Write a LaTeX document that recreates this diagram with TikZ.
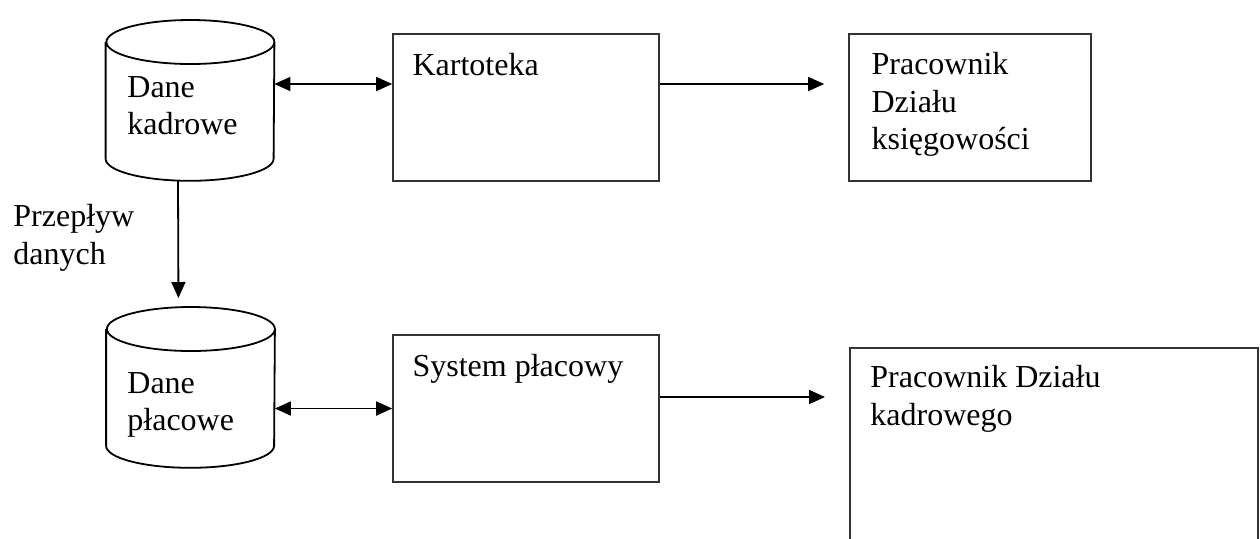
\documentclass[tikz,border=0pt]{standalone}
\usepackage{fontspec}
\setmainfont{Liberation Serif}
\usetikzlibrary{positioning,arrows.meta}

\begin{document}
\begin{tikzpicture}[
  x=0.5pt, y=-0.5pt,
  >={Triangle[length=8pt,width=7pt]},
  every node/.style={font=\fontsize{16pt}{18.75pt}\selectfont},
  db/.style={inner sep=0pt, minimum width=84pt, minimum height=80pt, anchor=north,
    append after command={\pgfextra{
      \draw[line width=0.9pt] ([yshift=-11pt]\tikzlastnode.north west) -- ([yshift=11pt]\tikzlastnode.south west)
        arc[start angle=180, end angle=360, x radius=42pt, y radius=11pt]
        -- ([yshift=-11pt]\tikzlastnode.north east)
        arc[start angle=0, end angle=360, x radius=42pt, y radius=11pt];}}},
  box/.style={draw=black!80, line width=0.8pt, minimum height=73.5pt, inner sep=0pt},
  lab/.style={align=left, inner sep=0pt},
  arrow/.style={line width=0.9pt}
]
\useasboundingbox (0,0) rectangle (1260,538);

% data stores
\node[db] (kadry) at (190,20) {};
\node[db] (place) at (190.5,307) {};
\node[lab, anchor=north west] (kadryT) at (127,76) {Dane\\kadrowe};
\node[lab, anchor=north west] (placeT) at (127,372) {Dane\\płacowe};
\node[lab, anchor=north west] (flow) at (13,204) {Przepływ\\danych};

% processes and recipients
\node[box, minimum width=133pt] (kart) at (526,107.5) {};
\node[box, minimum width=133pt] (system) at (526,408.5) {};
\node[box, minimum width=121pt] (ksieg) at (970,107.5) {};
\node[box, minimum width=204pt, minimum height=130pt, anchor=north west] (kadrowy) at (849,347) {};

% texts in the boxes
\node[lab, below right=10pt and 10pt of kart.north west] (kartT) {Kartoteka};
\node[lab, below right=10pt and 10pt of system.north west] (systemT) {System płacowy};
\node[lab, below right=9.5pt and 11.5pt of ksieg.north west] (ksiegT) {Pracownik\\Działu\\księgowości};
\node[lab, below right=9pt and 10.5pt of kadrowy.north west] (kadrowyT) {Pracownik Działu\\kadrowego};

% connectors
\coordinate (k1) at ([yshift=11.75pt]kart.west);
\coordinate (s1) at ([yshift=5.75pt]system.east);
\draw[arrow, <->] (kadry.east |- k1) -- (k1);
\draw[arrow, ->, shorten >=12pt] (k1 -| kart.east) -- (k1 -| ksieg.west);
\draw[arrow, ->, shorten >=4.5pt] ([xshift=-6pt]kadry.south) -- ([xshift=-6pt]place.north);
\draw[arrow, <->] (place.east |- system.west) -- (system.west);
\draw[arrow, ->, shorten >=12pt] (s1) -- (s1 -| kadrowy.west);
\end{tikzpicture}
\end{document}
